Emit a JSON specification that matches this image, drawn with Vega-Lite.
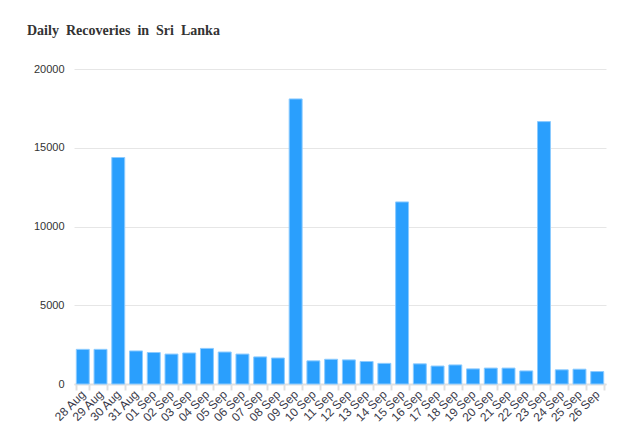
{
  "$schema": "https://vega.github.io/schema/vega-lite/v6.json",
  "width": 532,
  "height": 315,
  "autosize": "none",
  "padding": {"left": 74, "top": 69, "right": 29, "bottom": 57},
  "background": "white",
  "title": {
    "text": "Daily\u00a0\u00a0Recoveries\u00a0\u00a0in\u00a0\u00a0Sri\u00a0\u00a0Lanka",
    "anchor": "start",
    "frame": "group",
    "dx": -47,
    "offset": 25,
    "font": "Liberation Serif",
    "fontSize": 14,
    "fontWeight": "bold",
    "color": "#333333"
  },
  "data": {
    "values": [
      {"date": "28 Aug", "recovered": 2200},
      {"date": "29 Aug", "recovered": 2200},
      {"date": "30 Aug", "recovered": 14380},
      {"date": "31 Aug", "recovered": 2100},
      {"date": "01 Sep", "recovered": 2000},
      {"date": "02 Sep", "recovered": 1900},
      {"date": "03 Sep", "recovered": 1970},
      {"date": "04 Sep", "recovered": 2260},
      {"date": "05 Sep", "recovered": 2030},
      {"date": "06 Sep", "recovered": 1900},
      {"date": "07 Sep", "recovered": 1720},
      {"date": "08 Sep", "recovered": 1650},
      {"date": "09 Sep", "recovered": 18100},
      {"date": "10 Sep", "recovered": 1470},
      {"date": "11 Sep", "recovered": 1570},
      {"date": "12 Sep", "recovered": 1530},
      {"date": "13 Sep", "recovered": 1430},
      {"date": "14 Sep", "recovered": 1310},
      {"date": "15 Sep", "recovered": 11560},
      {"date": "16 Sep", "recovered": 1280},
      {"date": "17 Sep", "recovered": 1140},
      {"date": "18 Sep", "recovered": 1210},
      {"date": "19 Sep", "recovered": 960},
      {"date": "20 Sep", "recovered": 1010},
      {"date": "21 Sep", "recovered": 1010},
      {"date": "22 Sep", "recovered": 830},
      {"date": "23 Sep", "recovered": 16660},
      {"date": "24 Sep", "recovered": 900},
      {"date": "25 Sep", "recovered": 940},
      {"date": "26 Sep", "recovered": 790}
    ]
  },
  "mark": {"type": "bar", "color": "#2a9ffd", "stroke": "#8ccbff", "strokeWidth": 1},
  "encoding": {
    "x": {
      "field": "date",
      "type": "ordinal",
      "sort": null,
      "title": null,
      "scale": {"paddingInner": 0.27, "paddingOuter": 0.13},
      "axis": {
        "labelAngle": -45,
        "labelAlign": "right",
        "labelBaseline": "middle",
        "labelFont": "Liberation Sans",
        "labelFontSize": 12,
        "labelColor": "#3a3a4a",
        "labelPadding": 2,
        "tickBand": "extent",
        "tickColor": "#e0e0e0",
        "tickWidth": 2,
        "tickSize": 6,
        "domainColor": "#e0e0e0",
        "domainWidth": 2,
        "grid": false
      }
    },
    "y": {
      "field": "recovered",
      "type": "quantitative",
      "title": null,
      "scale": {"domain": [0, 20000]},
      "axis": {
        "values": [0, 5000, 10000, 15000, 20000],
        "format": "d",
        "domain": false,
        "ticks": false,
        "labelFont": "Liberation Sans",
        "labelFontSize": 11,
        "labelColor": "#333333",
        "labelPadding": 10,
        "gridColor": "#e6e6e6",
        "gridWidth": 1
      }
    }
  },
  "config": {"view": {"stroke": null}}
}
